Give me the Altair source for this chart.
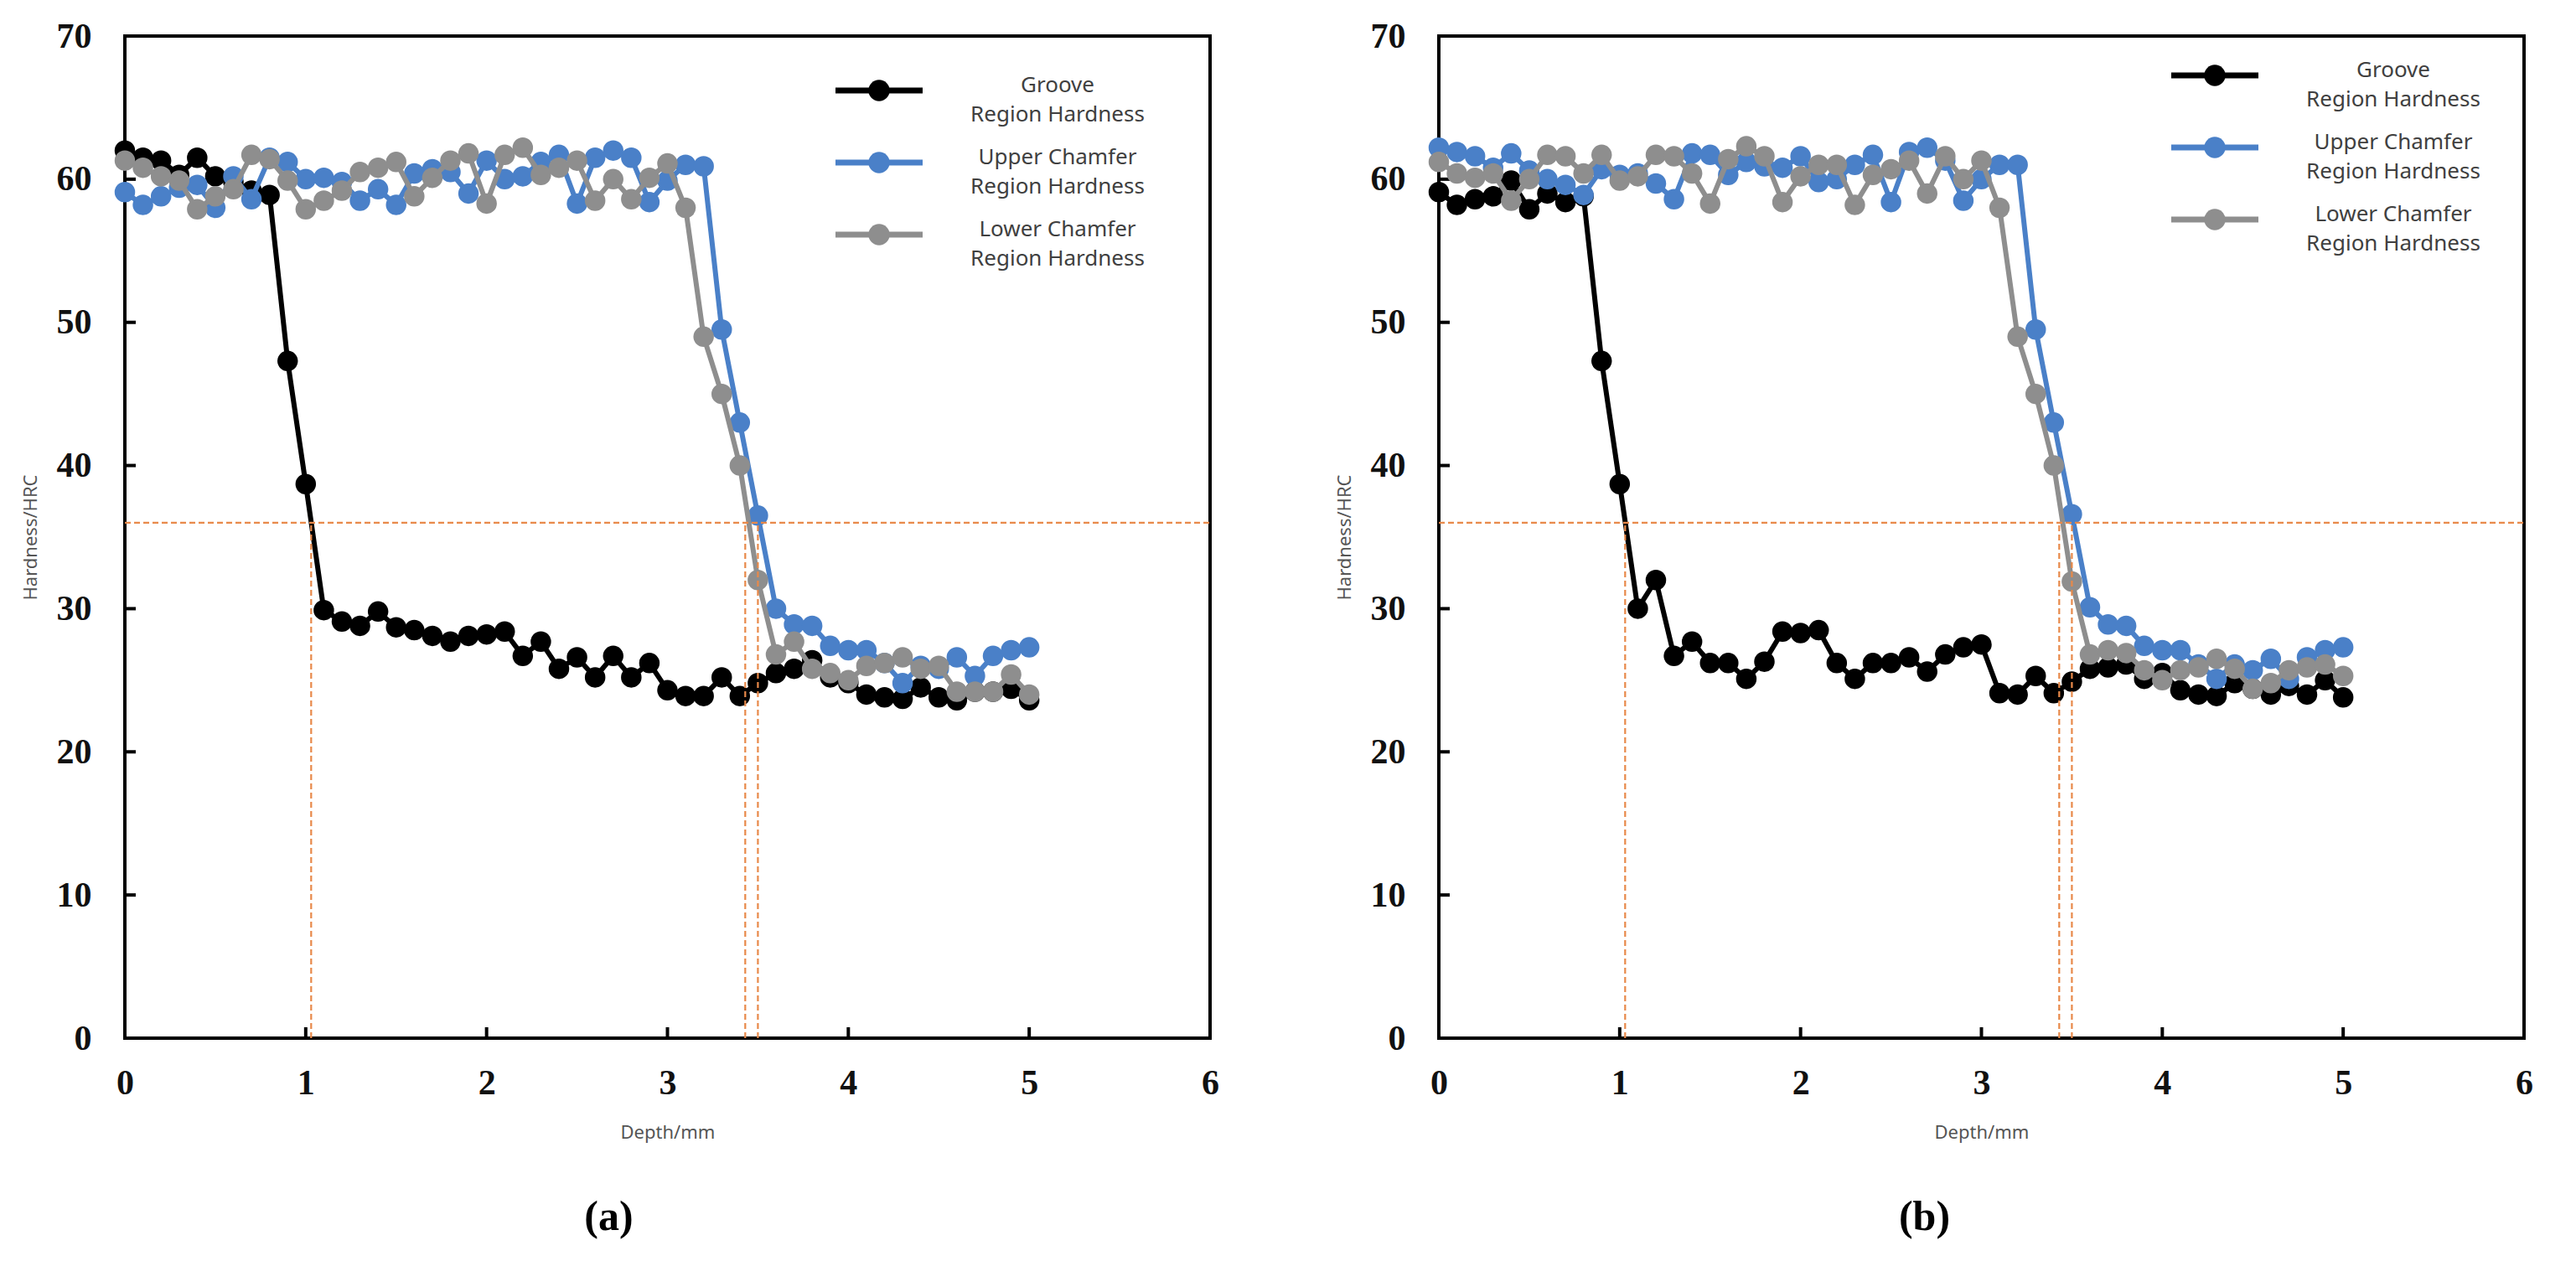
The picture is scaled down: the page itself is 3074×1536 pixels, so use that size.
import altair as alt
import pandas as pd

# ---------------- data ----------------
depth = [0.0, 0.1, 0.2, 0.3, 0.4, 0.5, 0.6, 0.7, 0.8, 0.9,
         1.0, 1.1, 1.2, 1.3, 1.4, 1.5, 1.6, 1.7, 1.8, 1.9,
         2.0, 2.1, 2.2, 2.3, 2.4, 2.5, 2.6, 2.7, 2.8, 2.9,
         3.0, 3.1, 3.2, 3.3, 3.4, 3.5, 3.6, 3.7, 3.8, 3.9,
         4.0, 4.1, 4.2, 4.3, 4.4, 4.5, 4.6, 4.7, 4.8, 4.9, 5.0]

groove_a = [62.0, 61.5, 61.3, 60.3, 61.5, 60.2, 59.8, 59.2, 58.9, 47.3,
            38.7, 29.9, 29.1, 28.8, 29.8, 28.7, 28.5, 28.1, 27.7, 28.1,
            28.2, 28.4, 26.7, 27.7, 25.8, 26.6, 25.2, 26.7, 25.2, 26.2,
            24.3, 23.9, 23.9, 25.2, 23.9, 24.8, 25.5, 25.8, 26.4, 25.2,
            24.8, 24.0, 23.8, 23.7, 24.5, 23.8, 23.6, 24.2, 24.2, 24.4, 23.6]
upper_a = [59.1, 58.2, 58.8, 59.4, 59.6, 58.0, 60.2, 58.6, 61.5, 61.2,
           60.0, 60.1, 59.8, 58.5, 59.3, 58.2, 60.4, 60.7, 60.5, 59.0,
           61.3, 60.0, 60.2, 61.2, 61.7, 58.3, 61.5, 62.0, 61.5, 58.4,
           59.9, 61.0, 60.9, 49.5, 43.0, 36.5, 30.0, 28.9, 28.8, 27.4,
           27.1, 27.1, 26.2, 24.8, 26.0, 25.8, 26.6, 25.3, 26.7, 27.1, 27.3]
lower_a = [61.3, 60.8, 60.2, 59.9, 57.9, 58.8, 59.3, 61.7, 61.4, 59.9,
           57.9, 58.5, 59.2, 60.5, 60.8, 61.2, 58.8, 60.1, 61.3, 61.8,
           58.3, 61.7, 62.2, 60.3, 60.8, 61.3, 58.5, 60.0, 58.6, 60.1,
           61.1, 58.0, 49.0, 45.0, 40.0, 32.0, 26.8, 27.7, 25.8, 25.5,
           25.0, 26.0, 26.2, 26.6, 25.8, 26.0, 24.2, 24.2, 24.2, 25.4, 24.0]

groove_b = [59.1, 58.2, 58.6, 58.8, 59.9, 57.9, 59.0, 58.4, 58.8, 47.3,
            38.7, 30.0, 32.0, 26.7, 27.7, 26.2, 26.2, 25.1, 26.3, 28.4,
            28.3, 28.5, 26.2, 25.1, 26.2, 26.2, 26.6, 25.6, 26.8, 27.3,
            27.5, 24.1, 24.0, 25.3, 24.1, 24.9, 25.8, 25.9, 26.1, 25.1,
            25.5, 24.3, 24.0, 23.9, 24.8, 24.4, 24.0, 24.6, 24.0, 25.0, 23.8]
upper_b = [62.2, 61.9, 61.6, 60.8, 61.8, 60.6, 60.0, 59.6, 58.9, 60.7,
           60.3, 60.4, 59.7, 58.6, 61.8, 61.7, 60.3, 61.2, 60.9, 60.8,
           61.6, 59.8, 60.0, 61.0, 61.7, 58.4, 61.9, 62.2, 61.3, 58.5,
           60.0, 61.0, 61.0, 49.5, 43.0, 36.6, 30.1, 28.9, 28.8, 27.4,
           27.1, 27.1, 26.1, 25.1, 26.1, 25.7, 26.5, 25.1, 26.6, 27.1, 27.3]
lower_b = [61.2, 60.4, 60.1, 60.4, 58.5, 60.0, 61.7, 61.6, 60.4, 61.7,
           59.9, 60.2, 61.7, 61.6, 60.4, 58.3, 61.4, 62.3, 61.6, 58.4,
           60.2, 61.0, 61.0, 58.2, 60.3, 60.7, 61.3, 59.0, 61.6, 60.0,
           61.3, 58.0, 49.0, 45.0, 40.0, 31.9, 26.8, 27.1, 26.9, 25.7,
           25.0, 25.7, 25.9, 26.5, 25.8, 24.4, 24.8, 25.7, 25.9, 26.1, 25.3]

series_names = ["Groove Region Hardness", "Upper Chamfer Region Hardness",
                "Lower Chamfer Region Hardness"]
legend_lines = [["Groove", "Region Hardness"],
                ["Upper Chamfer", "Region Hardness"],
                ["Lower Chamfer", "Region Hardness"]]
series_colors = ["#000000", "#4A80C8", "#8E8E8E"]

x_ticks = [0, 1, 2, 3, 4, 5, 6]
y_ticks = [0, 10, 20, 30, 40, 50, 60, 70]
threshold = 36
crossings = [1.03, 3.43, 3.50]
panel_labels = ["(a)", "(b)"]

# ---------------- styling ----------------
W, H = 1295, 1196
ORANGE = "#E8894A"
xs = alt.Scale(domain=[0, 6], nice=False)
ys = alt.Scale(domain=[0, 70], nice=False)


def panel(groove, upper, lower, label, lg_dx, lg_dy, title_dx):
    layers = []
    x_axis = alt.Axis(values=x_ticks, format="d", title="Depth/mm",
                      labelFont="Liberation Serif", labelFontWeight="bold",
                      labelFontSize=42, labelColor="#111111", labelPadding=33,
                      labelFlush=False, labelOverlap=False,
                      tickSize=0, domain=False, grid=False,
                      titleFont="Noto Sans", titleFontSize=22, titleFontWeight="normal",
                      titleColor="#555555", titlePadding=28)
    y_axis = alt.Axis(values=y_ticks, format="d", title="Hardness/HRC",
                      labelFont="Liberation Serif", labelFontWeight="bold",
                      labelFontSize=42, labelColor="#111111", labelPadding=40,
                      labelFlush=False, labelOverlap=False,
                      tickSize=0, domain=False, grid=False,
                      titleFont="Noto Sans", titleFontSize=22, titleFontWeight="normal",
                      titleColor="#555555", titlePadding=19)

    # inward ticks
    yt = pd.DataFrame({"v": y_ticks[1:-1]})
    xt = pd.DataFrame({"v": x_ticks[1:-1]})
    layers.append(alt.Chart(yt).mark_rule(color="black", strokeWidth=4).encode(
        y=alt.Y("v:Q", scale=ys, axis=y_axis), x=alt.value(0), x2=alt.value(13)))
    layers.append(alt.Chart(xt).mark_rule(color="black", strokeWidth=4).encode(
        x=alt.X("v:Q", scale=xs, axis=x_axis), y=alt.value(H), y2=alt.value(H - 13)))

    for name, vals, col in zip(series_names, [groove, upper, lower], series_colors):
        df = pd.DataFrame({"depth": depth, "hardness": vals})
        layers.append(alt.Chart(df).mark_line(
            color=col, strokeWidth=6,
            point=alt.OverlayMarkDef(filled=True, color=col, size=600, opacity=1)
        ).encode(x=alt.X("depth:Q", scale=xs), y=alt.Y("hardness:Q", scale=ys)))

    # reference dashed lines
    hl = pd.DataFrame({"y": [threshold], "x0": [x_ticks[0]], "x1": [x_ticks[-1]]})
    layers.append(alt.Chart(hl).mark_rule(color=ORANGE, strokeWidth=2.2, strokeDash=[7, 4]).encode(
        y=alt.Y("y:Q", scale=ys), x=alt.X("x0:Q", scale=xs), x2="x1:Q"))
    vl = pd.DataFrame({"x": crossings, "y0": [0] * len(crossings), "y1": [threshold] * len(crossings)})
    layers.append(alt.Chart(vl).mark_rule(color=ORANGE, strokeWidth=2.2, strokeDash=[7, 4]).encode(
        x=alt.X("x:Q", scale=xs), y=alt.Y("y0:Q", scale=ys), y2="y1:Q"))

    # custom legend
    for i, (lines, col) in enumerate(zip(legend_lines, series_colors)):
        ly = lg_dy + 86 * i
        layers.append(alt.Chart(hl).mark_rule(color=col, strokeWidth=7).encode(
            x=alt.value(lg_dx - 52), x2=alt.value(lg_dx + 52), y=alt.value(ly)))
        layers.append(alt.Chart(hl).mark_point(filled=True, color=col, size=640, opacity=1).encode(
            x=alt.value(lg_dx), y=alt.value(ly)))
        layers.append(alt.Chart(hl).mark_text(
            font="Noto Sans", fontSize=26, color="#404040", align="center",
            baseline="middle", lineHeight=35, text=lines).encode(
            x=alt.value(lg_dx + 213), y=alt.value(ly - 6)))

    return alt.layer(*layers).properties(
        width=W, height=H,
        title=alt.TitleParams(label, orient="bottom", anchor="middle", frame="group",
                              font="Liberation Serif", fontSize=50, fontWeight="bold",
                              color="black", offset=66, dx=title_dx))


pa = panel(groove_a, upper_a, lower_a, panel_labels[0], 900, 65, -70)
pb = panel(groove_b, upper_b, lower_b, panel_labels[1], 926, 47, -68)

chart = alt.hconcat(pa, pb, spacing=134).properties(
    padding={"left": 15, "top": 12, "right": 5, "bottom": 5}
).configure(background="white").configure_view(stroke="black", strokeWidth=4)

chart.save("out.html", embed_options={"renderer": "svg", "actions": False})
